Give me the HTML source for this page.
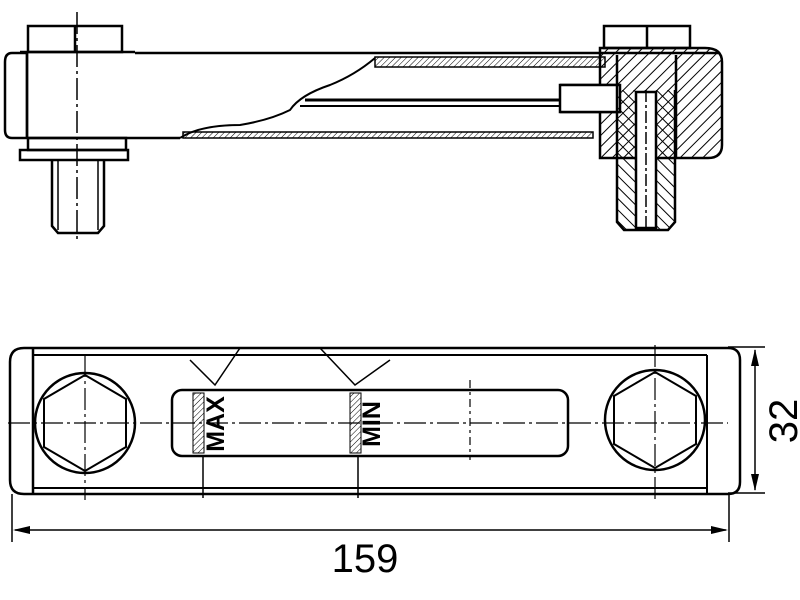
<!DOCTYPE html>
<html><head><style>html,body{margin:0;padding:0;background:#fff}svg{display:block}</style></head>
<body>
<svg width="800" height="600" viewBox="0 0 800 600" xmlns="http://www.w3.org/2000/svg">
<defs>
<pattern id="h" width="8" height="8" patternUnits="userSpaceOnUse" patternTransform="rotate(45)"><line x1="0" y1="0" x2="0" y2="8" stroke="#000" stroke-width="2"/></pattern>
<pattern id="h2" width="8" height="8" patternUnits="userSpaceOnUse" patternTransform="rotate(-45)"><line x1="0" y1="0" x2="0" y2="8" stroke="#000" stroke-width="2"/></pattern>
<pattern id="hs" width="4" height="4" patternUnits="userSpaceOnUse" patternTransform="rotate(45)"><line x1="0" y1="0" x2="0" y2="4" stroke="#000" stroke-width="1"/></pattern>
</defs>
<g fill="none" stroke="#000" stroke-width="2.5">
<!-- TOP VIEW -->
<rect x="28" y="26" width="94" height="26"/>
<line x1="75" y1="26" x2="75" y2="52"/>
<path d="M20 52 H135 M135 53 H720"/>
<path d="M27 53 H12 Q5 53 5 62 V130 Q5 138 12 138 H27 Z"/>
<line x1="27" y1="53" x2="27" y2="138"/>
<line x1="27" y1="138" x2="180" y2="138"/>
<rect x="28" y="138" width="98" height="12"/>
<rect x="20" y="150" width="108" height="10"/>
<path d="M52 160 V226 L58 233 H98 L104 226 V160"/>
<line x1="58" y1="160" x2="58" y2="230" stroke-width="1.5"/>
<line x1="98" y1="160" x2="98" y2="230" stroke-width="1.5"/>
<line x1="77" y1="12" x2="77" y2="240" stroke-width="1.5" stroke-dasharray="22,4,3,4"/>
<!-- tube -->
<path d="M180 138 Q200 125 240 125 Q270 120 290 110 Q300 95 330 85 Q355 75 375 58" stroke-width="2"/>
<rect x="183" y="132" width="410" height="6" fill="url(#hs)" stroke-width="1.5"/>
<rect x="375" y="57" width="230" height="10" fill="url(#hs)" stroke-width="1.5"/>
<line x1="305" y1="100" x2="560" y2="100" stroke-width="3"/>
<line x1="300" y1="106" x2="560" y2="106" stroke-width="2"/>
<line x1="560" y1="85" x2="620" y2="85"/>
<line x1="560" y1="112" x2="620" y2="112"/>
<!-- right head -->
<rect x="604" y="26" width="86" height="22"/>
<line x1="647" y1="26" x2="647" y2="48"/>
<path d="M600 48 H705 Q722 48 722 62 V145 Q722 158 708 158 H600 Z" fill="url(#h)"/>
<rect x="560" y="85" width="60" height="27" fill="#fff"/>
<path d="M617 90 V222 L624 230 H668 L675 222 V90" fill="url(#h2)"/>
<rect x="636" y="92" width="20" height="136" fill="#fff"/>
<line x1="646" y1="90" x2="646" y2="230" stroke-width="1.5" stroke-dasharray="12,3,3,3"/>
<line x1="676" y1="55" x2="676" y2="158"/>
<line x1="617" y1="55" x2="617" y2="90"/>
<!-- BOTTOM VIEW -->
<path d="M728 348 H24 Q10 348 10 362 V480 Q10 494 24 494 H728 Q740 494 740 482 V360 Q740 348 728 348 Z"/>
<line x1="33" y1="355" x2="707" y2="355" stroke-width="2"/>
<line x1="33" y1="488" x2="707" y2="488" stroke-width="2"/>
<line x1="33" y1="348" x2="33" y2="494"/>
<line x1="707" y1="355" x2="707" y2="494" stroke-width="2"/>
<circle cx="85" cy="423" r="50"/>
<polygon points="85,375 126,399 126,447 85,471 44,447 44,399" stroke-width="2"/>
<circle cx="655" cy="420" r="50"/>
<polygon points="655,372 696,396 696,444 655,468 614,444 614,396" stroke-width="2"/>
<rect x="172" y="390" width="396" height="66" rx="10"/>
<rect x="193" y="393" width="11" height="60" fill="url(#hs)" stroke-width="1"/>
<rect x="350" y="393" width="11" height="60" fill="url(#hs)" stroke-width="1"/>
<path d="M190 360 L215 385 L240 348 M320 348 L355 385 L390 360" stroke-width="1.5"/>
<line x1="203" y1="456" x2="203" y2="498" stroke-width="1.5"/>
<line x1="358" y1="456" x2="358" y2="498" stroke-width="1.5"/>
<line x1="8" y1="423" x2="728" y2="423" stroke-width="1.2" stroke-dasharray="22,4,3,4"/>
<line x1="85" y1="355" x2="85" y2="500" stroke-width="1.2" stroke-dasharray="22,4,3,4"/>
<line x1="655" y1="345" x2="655" y2="500" stroke-width="1.2" stroke-dasharray="22,4,3,4"/>
<line x1="470" y1="380" x2="470" y2="460" stroke-width="1.2" stroke-dasharray="8,4,3,4"/>
<!-- dims -->
<g stroke-width="1.5">
<line x1="728" y1="347" x2="765" y2="347"/>
<line x1="728" y1="493" x2="765" y2="493"/>
<line x1="755" y1="350" x2="755" y2="490"/>
<line x1="12" y1="494" x2="12" y2="542"/>
<line x1="729" y1="494" x2="729" y2="542"/>
<line x1="15" y1="530" x2="726" y2="530"/>
</g>
</g>
<g fill="#000">
<polygon points="755,349 751,366 759,366"/>
<polygon points="755,491 751,474 759,474"/>
<polygon points="13,530 30,526 30,534"/>
<polygon points="728,530 711,526 711,534"/>
</g>
<g font-family="Liberation Sans, sans-serif" fill="#000">
<text x="365" y="572" font-size="40" text-anchor="middle">159</text>
<text transform="translate(797,421) rotate(-90)" font-size="40" text-anchor="middle">32</text>
<text transform="translate(224,424) rotate(-90)" font-size="25" font-weight="bold" text-anchor="middle">MAX</text>
<text transform="translate(380,424) rotate(-90)" font-size="25" font-weight="bold" text-anchor="middle">MIN</text>
</g>
</svg>
</body></html>
